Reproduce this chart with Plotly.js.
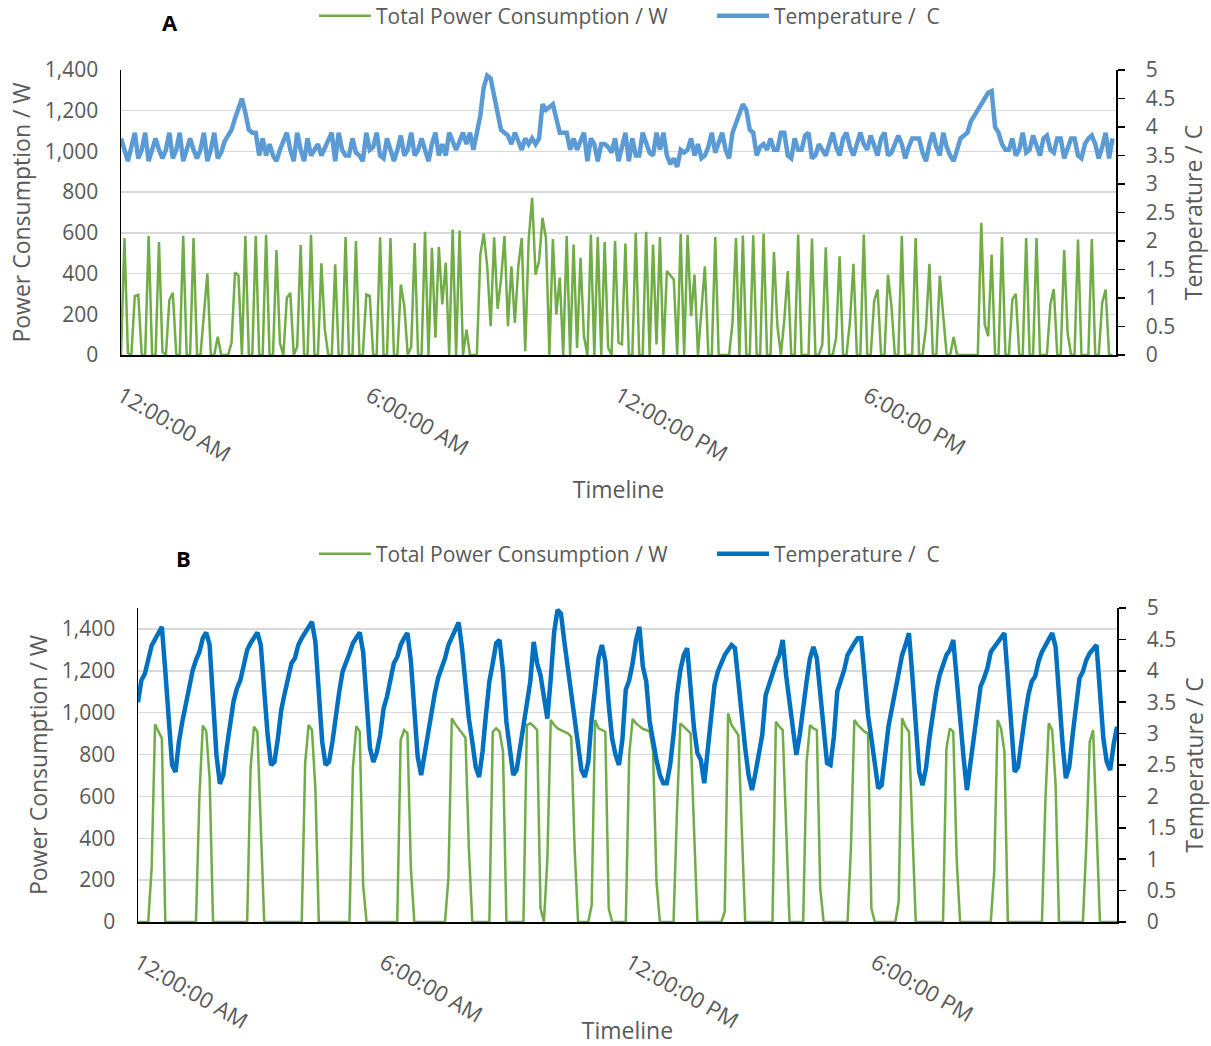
<!DOCTYPE html>
<html>
<head>
<meta charset="utf-8">
<script src="https://cdn.plot.ly/plotly-3.0.1.min.js"></script>
<style>
html,body{margin:0;padding:0;background:#fff;}
#chart{width:1211px;height:1046px;}
</style>
</head>
<body>
<div id="chart"></div>
<script>
// ---- Data (5-minute samples over one day) ----
const tickLabels = ['12:00:00 AM', '6:00:00 AM', '12:00:00 PM', '6:00:00 PM'];
const tickTimes = ['0:00', '6:00', '12:00', '18:00'];

const powerA = [
0,575,10,0,290,295,0,0,585,0,
0,555,15,0,270,305,0,0,585,0,
0,575,0,0,200,400,0,0,90,0,
0,0,60,405,390,0,585,0,0,585,
0,0,590,0,0,515,60,0,280,305,
0,40,540,0,0,590,0,0,450,125,
0,0,445,0,0,580,0,0,560,0,
0,297,290,0,0,578,0,0,575,0,
0,346,240,0,40,550,0,0,605,0,
527,85,531,248,453,0,616,0,611,0,
125,0,0,0,493,597,436,142,578,227,
371,584,142,436,158,436,575,19,567,772,
395,461,674,575,0,570,200,380,0,584,
0,543,35,478,92,0,592,0,580,0,
555,35,0,560,60,52,548,0,0,600,
0,0,605,0,543,52,580,0,412,390,
371,0,595,0,590,190,395,0,220,436,
0,0,580,0,0,0,0,158,575,0,
587,0,0,588,0,0,597,0,0,506,
142,0,175,412,0,0,592,0,0,0,
572,0,0,52,529,0,0,85,485,0,
0,166,448,0,0,592,0,0,264,322,
0,0,395,240,0,0,584,0,0,0,
575,0,0,134,448,0,0,390,190,0,
0,89,0,0,0,0,0,0,0,649,
150,92,493,0,0,580,0,0,272,300,
0,0,575,0,0,575,0,0,0,248,
324,0,0,515,108,0,0,567,0,0,
0,570,0,0,256,322,0,0
];

const tempA = [
3.8,3.6,3.4,3.65,3.9,3.45,3.6,3.9,3.4,3.6,
3.8,3.6,3.45,3.6,3.9,3.45,3.6,3.9,3.4,3.6,
3.8,3.6,3.45,3.6,3.9,3.4,3.6,3.9,3.45,3.55,
3.75,3.85,3.95,4.15,4.35,4.5,4.25,3.95,3.9,3.9,
3.5,3.8,3.5,3.7,3.5,3.4,3.6,3.75,3.9,3.6,
3.4,3.9,3.6,3.4,3.8,3.5,3.6,3.7,3.5,3.65,
3.8,3.9,3.4,3.9,3.6,3.5,3.5,3.8,3.55,3.5,
3.4,3.9,3.6,3.65,3.9,3.5,3.45,3.8,3.6,3.4,
3.6,3.85,3.5,3.6,3.9,3.5,3.6,3.8,3.6,3.4,
3.7,3.9,3.5,3.7,3.5,3.9,3.75,3.6,3.75,3.9,
3.7,3.9,3.6,3.9,4.2,4.7,4.9,4.85,4.55,4.2,
3.95,3.9,3.85,3.7,3.9,3.75,3.6,3.8,3.7,3.8,
3.7,3.8,4.4,4.3,4.35,4.4,4.15,3.9,3.9,3.9,
3.6,3.8,3.6,3.75,3.9,3.4,3.8,3.7,3.4,3.7,
3.7,3.65,3.55,3.8,3.4,3.65,3.9,3.4,3.8,3.5,
3.5,3.9,3.7,3.55,3.5,3.9,3.6,3.9,3.5,3.35,
3.45,3.3,3.6,3.55,3.6,3.8,3.5,3.7,3.45,3.5,
3.65,3.9,3.55,3.7,3.9,3.6,3.45,3.9,4.05,4.25,
4.4,4.3,3.95,3.9,3.5,3.65,3.7,3.6,3.8,3.6,
3.6,3.9,3.9,3.5,3.45,3.8,3.6,3.6,3.85,3.9,
3.45,3.5,3.7,3.6,3.5,3.7,3.9,3.65,3.5,3.8,
3.9,3.65,3.5,3.7,3.9,3.7,3.6,3.85,3.7,3.5,
3.8,3.9,3.5,3.55,3.7,3.85,3.7,3.45,3.65,3.8,
3.8,3.8,3.55,3.4,3.7,3.9,3.65,3.5,3.9,3.65,
3.5,3.4,3.6,3.8,3.85,3.9,4.1,4.2,4.3,4.4,
4.5,4.6,4.63,4.0,3.9,3.7,3.6,3.6,3.8,3.5,
3.6,3.9,3.55,3.6,3.85,3.65,3.5,3.8,3.85,3.6,
3.55,3.8,3.8,3.45,3.6,3.8,3.8,3.5,3.45,3.7,
3.8,3.85,3.7,3.45,3.65,3.9,3.45,3.8
];

const powerB = [
0,0,0,0,256,944,910,877,0,0,
0,0,0,0,0,0,0,0,600,938,
912,686,0,0,0,0,0,0,0,0,
0,0,0,734,933,909,450,0,0,0,
0,0,0,0,0,0,0,0,0,758,
941,917,638,0,0,0,0,0,0,0,
0,0,0,734,936,909,177,0,0,0,
0,0,0,0,0,0,0,869,917,901,
256,0,0,0,0,0,0,0,0,0,
0,209,973,945,925,905,880,350,0,0,
0,0,0,0,909,925,909,814,0,0,
0,0,0,0,941,949,935,917,65,0,
300,965,941,925,917,909,901,885,352,0,
0,0,0,81,965,925,917,909,65,0,
0,0,0,0,798,970,949,933,922,917,
909,814,193,0,0,0,0,0,527,949,
933,917,901,447,0,0,0,0,0,0,
0,0,49,997,941,917,893,447,0,0,
0,0,0,0,0,0,0,957,933,917,
415,0,0,0,0,0,760,941,925,917,
161,0,0,0,0,0,0,0,0,352,
965,941,925,909,900,65,0,0,0,0,
0,0,0,97,973,933,909,447,0,0,
0,0,0,0,0,0,0,830,925,909,
300,0,0,0,0,0,0,0,0,0,
0,240,965,925,814,0,0,0,0,0,
0,0,0,0,0,0,575,949,917,655,
0,0,0,0,0,0,0,0,368,861,
917,447,0,0,0,0,0,0
];

const tempB = [
3.5,3.85,3.95,4.2,4.4,4.5,4.6,4.7,4.0,3.2,
2.5,2.39,2.87,3.19,3.46,3.77,4.0,4.17,4.3,4.52,
4.61,4.41,3.56,2.66,2.2,2.34,2.77,3.19,3.51,3.72,
3.85,4.09,4.33,4.44,4.54,4.61,4.41,3.67,2.98,2.5,
2.55,2.92,3.38,3.64,3.85,4.12,4.2,4.41,4.52,4.6,
4.7,4.78,4.46,3.61,2.87,2.5,2.55,2.87,3.3,3.67,
3.99,4.12,4.28,4.44,4.54,4.61,4.3,3.46,2.77,2.55,
2.7,2.98,3.4,3.59,3.9,4.12,4.22,4.41,4.52,4.6,
4.15,3.35,2.63,2.34,2.69,3.03,3.38,3.64,3.89,4.04,
4.2,4.41,4.54,4.68,4.77,4.36,3.8,3.24,2.87,2.47,
2.31,2.71,3.3,3.83,4.12,4.44,4.49,3.99,3.19,2.71,
2.34,2.42,2.77,3.14,3.4,3.83,4.46,4.12,3.93,3.61,
3.24,3.88,4.62,4.97,4.91,4.46,4.04,3.64,3.32,2.82,
2.42,2.31,2.55,3.24,3.8,4.2,4.41,4.15,3.46,2.92,
2.66,2.5,2.9,3.7,3.85,4.12,4.49,4.7,4.07,3.83,
3.19,2.87,2.58,2.34,2.21,2.21,2.5,2.98,3.61,4.01,
4.25,4.36,3.69,3.08,2.69,2.58,2.21,2.69,3.27,3.77,
3.99,4.12,4.25,4.33,4.41,4.36,3.83,3.19,2.77,2.34,
2.1,2.37,2.69,2.98,3.61,3.8,3.96,4.12,4.25,4.49,
3.93,3.51,3.08,2.66,2.98,3.46,3.83,4.2,4.38,4.2,
3.61,3.03,2.53,2.5,2.95,3.67,3.83,4.01,4.25,4.36,
4.44,4.52,4.52,3.93,3.3,2.92,2.55,2.13,2.18,2.63,
3.11,3.4,3.69,3.99,4.25,4.41,4.6,3.93,3.14,2.39,
2.18,2.45,2.92,3.3,3.67,3.93,4.07,4.25,4.33,4.49,
3.88,3.14,2.63,2.1,2.5,2.92,3.4,3.75,3.88,4.04,
4.3,4.38,4.46,4.54,4.6,3.88,3.19,2.39,2.47,2.92,
3.27,3.61,3.83,3.91,4.15,4.3,4.41,4.52,4.6,4.38,
3.56,2.87,2.29,2.47,2.98,3.51,3.88,3.99,4.17,4.28,
4.36,4.41,3.67,2.92,2.55,2.42,2.82,3.11
];

// time-of-day categories (5-minute steps)
const times = [];
for (let m = 0; m < 24 * 60; m += 5) {
  times.push(Math.floor(m / 60) + ':' + String(m % 60).padStart(2, '0'));
}

// ---- Layout helpers ----
const W = 1211, H = 1046;
const px = v => v / W;
const py = v => 1 - v / H;
const GREY = '#595959';
const FONT = 'Open Sans, sans-serif';

const traces = [
  {x: times, y: powerA, xaxis: 'x', yaxis: 'y', type: 'scatter', mode: 'lines',
   name: 'Total Power Consumption / W', legend: 'legend',
   line: {color: '#70ad47', width: 2.5}},
  {x: times, y: tempA, xaxis: 'x', yaxis: 'y2', type: 'scatter', mode: 'lines',
   name: 'Temperature /  C', legend: 'legend2',
   line: {color: '#5b9bd5', width: 4.5}},
  {x: times, y: powerB, xaxis: 'x2', yaxis: 'y3', type: 'scatter', mode: 'lines',
   name: 'Total Power Consumption / W', legend: 'legend3',
   line: {color: '#70ad47', width: 2.5}},
  {x: times, y: tempB, xaxis: 'x2', yaxis: 'y4', type: 'scatter', mode: 'lines',
   name: 'Temperature /  C', legend: 'legend4',
   line: {color: '#0070c0', width: 4.5}}
];

const tickFont = {family: FONT, size: 21, color: GREY};
const xTickFont = {family: FONT, size: 22, color: GREY};
const titleFont = {family: FONT, size: 23, color: GREY};

function xAxis(domain, anchor, range, titleStandoff) {
  return {
    domain: domain, anchor: anchor, type: 'category', range: range,
    tickmode: 'array', tickvals: tickTimes, ticktext: tickLabels,
    tickangle: 30, tickfont: xTickFont, ticks: '', ticklabelstandoff: 18,
    showline: true, linecolor: '#000', linewidth: 1.5,
    showgrid: false, zeroline: false,
    title: {text: 'Timeline', font: titleFont, standoff: titleStandoff}
  };
}
function yLeft(domain, anchor, range) {
  return {
    domain: domain, anchor: anchor, range: range, dtick: 200, tick0: 0,
    tickformat: ',d', tickfont: tickFont, ticks: '', ticklabelstandoff: 17,
    showline: true, linecolor: '#000', linewidth: 1.5,
    showgrid: true, gridcolor: '#d9d9d9', gridwidth: 1.5, zeroline: false,
    title: {text: 'Power Consumption / W', font: titleFont, standoff: 8}
  };
}
function yRight(overlay, anchor, range) {
  return {
    overlaying: overlay, side: 'right', anchor: anchor, range: range,
    dtick: 0.5, tick0: 0, tickfont: tickFont,
    ticks: 'outside', ticklen: 7, tickwidth: 1.5, tickcolor: '#000',
    ticklabelstandoff: 17,
    showline: true, linecolor: '#000', linewidth: 1.5,
    showgrid: false, zeroline: false,
    title: {text: 'Temperature / C', font: titleFont, standoff: 11}
  };
}
function legendAt(x, y) {
  return {x: px(x), y: py(y), xanchor: 'left', yanchor: 'middle',
          orientation: 'h', itemwidth: 52, bgcolor: 'rgba(0,0,0,0)', borderwidth: 0,
          font: {family: FONT, size: 21, color: GREY}};
}

const layout = {
  width: W, height: H,
  margin: {l: 0, r: 0, t: 0, b: 0, autoexpand: false},
  paper_bgcolor: '#fff', plot_bgcolor: '#fff',
  font: {family: FONT, color: GREY},
  showlegend: true,
  xaxis: xAxis([px(121), px(1116)], 'y', [0, 288], 15),
  yaxis: yLeft([py(355), py(70)], 'x', [0, 1400]),
  yaxis2: yRight('y', 'x', [0, 5]),
  xaxis2: xAxis([px(138), px(1117)], 'y3', [0, 287], 18),
  yaxis3: yLeft([py(922), py(608)], 'x2', [0, 1500]),
  yaxis4: yRight('y3', 'x2', [0, 5]),
  legend: legendAt(314, 16),
  legend2: legendAt(712, 16),
  legend3: legendAt(314, 554),
  legend4: legendAt(712, 554),
  annotations: [
    {text: '<b>A</b>', x: px(170), y: py(22), xref: 'paper', yref: 'paper',
     xanchor: 'center', yanchor: 'middle',
     showarrow: false, font: {family: FONT, size: 22, color: '#000'}},
    {text: '<b>B</b>', x: px(183), y: py(558), xref: 'paper', yref: 'paper',
     xanchor: 'center', yanchor: 'middle',
     showarrow: false, font: {family: FONT, size: 22, color: '#000'}}
  ]
};

Plotly.newPlot('chart', traces, layout, {displayModeBar: false, staticPlot: true});
</script>
</body>
</html>
